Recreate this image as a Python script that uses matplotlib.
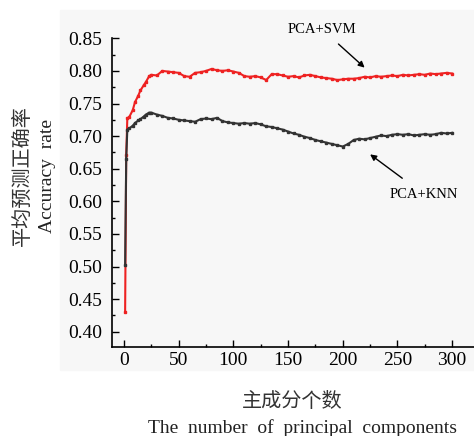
import matplotlib
matplotlib.use("Agg")
import matplotlib.pyplot as plt
from matplotlib.patches import Rectangle
from matplotlib.ticker import MultipleLocator

# number of principal components
n_pc = [1, 2, 3, 5, 8, 10, 13, 15, 18, 20, 23, 25,
        30, 35, 40, 45, 50, 55, 60, 65, 70, 75, 80, 85, 90, 95, 100,
        105, 110, 115, 120, 125, 130, 135, 140, 145, 150, 155, 160, 165, 170,
        175, 180, 185, 190, 195, 200, 205, 210, 215, 220, 225, 230, 235, 240,
        245, 250, 255, 260, 265, 270, 275, 280, 285, 290, 295, 300]

svm_acc = [0.430, 0.671, 0.727, 0.730, 0.740, 0.752, 0.762, 0.770, 0.778, 0.783, 0.792, 0.794,
           0.793, 0.800, 0.799, 0.798, 0.797, 0.792, 0.791, 0.797, 0.798, 0.800, 0.803, 0.801, 0.800, 0.801, 0.799,
           0.797, 0.792, 0.791, 0.792, 0.790, 0.786, 0.795, 0.795, 0.793, 0.791, 0.792, 0.790, 0.793, 0.794,
           0.792, 0.790, 0.789, 0.788, 0.786, 0.787, 0.788, 0.788, 0.789, 0.791, 0.790, 0.792, 0.791, 0.792,
           0.793, 0.792, 0.794, 0.793, 0.794, 0.795, 0.794, 0.796, 0.795, 0.796, 0.797, 0.796]

knn_acc = [0.502, 0.665, 0.710, 0.712, 0.716, 0.720, 0.724, 0.726, 0.730, 0.733, 0.736, 0.736,
           0.733, 0.731, 0.728, 0.727, 0.725, 0.724, 0.723, 0.722, 0.726, 0.727, 0.726, 0.728, 0.723, 0.721, 0.720,
           0.719, 0.720, 0.719, 0.720, 0.718, 0.715, 0.714, 0.712, 0.710, 0.707, 0.704, 0.702, 0.699, 0.697,
           0.694, 0.692, 0.690, 0.688, 0.686, 0.684, 0.688, 0.694, 0.696, 0.695, 0.697, 0.699, 0.701, 0.700,
           0.702, 0.703, 0.702, 0.703, 0.701, 0.702, 0.703, 0.702, 0.703, 0.705, 0.704, 0.705]

serif = ["Liberation Serif", "Noto Sans CJK SC"]
cjk = ["Noto Sans CJK SC"]

fig = plt.figure(figsize=(4.74, 4.36), dpi=100)
fig.patches.append(Rectangle((60 / 474, 1 - 370 / 436), 414 / 474, 360 / 436,
                             transform=fig.transFigure, color="#f7f7f7", zorder=-5))
ax = fig.add_axes([112 / 474, 1 - 346.7 / 436, 362 / 474, 308.4 / 436])
ax.set_zorder(2)
ax.patch.set_alpha(0)

ax.plot(n_pc, svm_acc, color="#ee2222", lw=1.5, marker="s", ms=2, zorder=3)
ax.plot(n_pc, knn_acc, color="#333333", lw=1.5, marker="s", ms=2, zorder=3)

ax.set_xlim(-11, 320)
ax.set_ylim(0.377, 0.85)
ax.xaxis.set_major_locator(MultipleLocator(50))
ax.xaxis.set_minor_locator(MultipleLocator(25))
ax.yaxis.set_major_locator(MultipleLocator(0.05))
ax.yaxis.set_minor_locator(MultipleLocator(0.025))
ax.tick_params(which="both", direction="in", width=1, labelsize=14)
ax.tick_params(which="major", length=5)
ax.tick_params(which="minor", length=2.5)
ax.tick_params(axis="y", pad=7)
for lab in ax.get_xticklabels() + ax.get_yticklabels():
    lab.set_family(serif)
ax.spines["top"].set_visible(False)
ax.spines["right"].set_visible(False)
ax.spines["left"].set_linewidth(1.2)
ax.spines["bottom"].set_linewidth(1.2)

ax.annotate("PCA+SVM", xy=(220, 0.805), xytext=(181, 0.864), annotation_clip=False,
            ha="center", va="center", fontsize=10.5, family=serif,
            arrowprops=dict(arrowstyle="-|>", color="black", lw=1, shrinkA=6, shrinkB=0,
                            mutation_scale=9))
ax.annotate("PCA+KNN", xy=(225, 0.672), xytext=(274, 0.611),
            ha="center", va="center", fontsize=10.5, family=serif,
            arrowprops=dict(arrowstyle="-|>", color="black", lw=1, shrinkA=8, shrinkB=0,
                            mutation_scale=9))

fig.text(22 / 474, 1 - 176 / 436, "平均预测正确率", rotation=90, ha="center", va="center",
         fontsize=14.5, family=cjk, color="#333333")
fig.text(47 / 474, 1 - 176 / 436, "Accuracy  rate", rotation=90, ha="center", va="center",
         fontsize=14, family=serif, color="#222222")
fig.text(292 / 474, 1 - 401 / 436, "主成分个数", ha="center", va="center",
         fontsize=14.5, family=cjk, color="#333333")
fig.text(302 / 474, 1 - 428 / 436, "The  number  of  principal  components", ha="center", va="center",
         fontsize=14, family=serif, color="#222222")

fig.savefig("out.png", dpi=100)
